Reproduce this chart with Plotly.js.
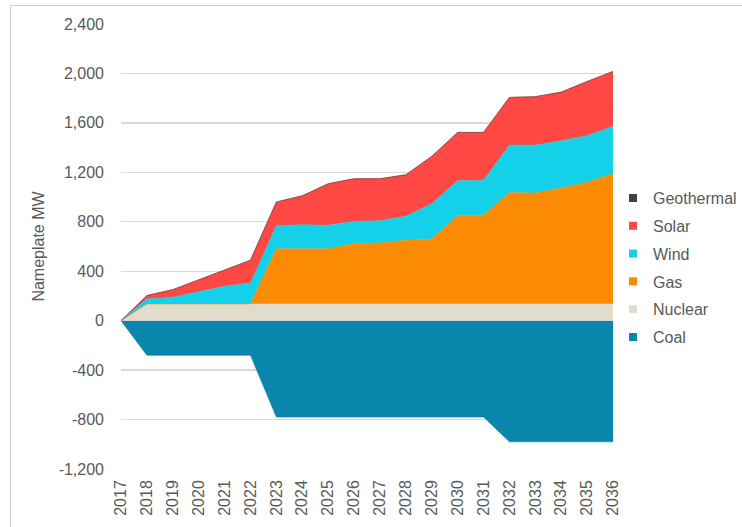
<!DOCTYPE html>
<html>
<head>
<meta charset="utf-8">
<script src="https://cdn.plot.ly/plotly-3.0.1.min.js"></script>
<style>
  html, body { margin: 0; padding: 0; background: #ffffff; overflow: hidden; }
  #frame { position: absolute; left: 10px; top: 5px; width: 760px; height: 560px;
           border: 1px solid #d0d0d0; box-sizing: border-box; }
  #chart { position: absolute; left: 0; top: 0; width: 742px; height: 527px; }
</style>
</head>
<body>
<div id="frame"></div>
<div id="chart"></div>
<script>
// Capacity additions (positive) and retirements (negative), nameplate MW
const years = [2017, 2018, 2019, 2020, 2021, 2022, 2023, 2024, 2025, 2026,
               2027, 2028, 2029, 2030, 2031, 2032, 2033, 2034, 2035, 2036];

const coal       = [0, -280, -280, -280, -280, -280, -780, -780, -780, -780,
                    -780, -780, -780, -780, -780, -980, -980, -980, -980, -980];
const nuclear    = [0, 135, 135, 135, 135, 135, 135, 135, 135, 135,
                    135, 135, 135, 135, 135, 135, 135, 135, 135, 135];
const gas        = [0, 0, 0, 0, 0, 0, 446, 444, 447, 488,
                    493, 515, 525, 714, 717, 901, 897, 938, 983, 1053];
const wind       = [0, 41, 54, 97, 143, 170, 187, 197, 189, 180,
                    180, 194, 286, 283, 283, 384, 388, 382, 378, 383];
const solar      = [0, 27, 62, 100, 136, 184, 192, 234, 337, 345,
                    340, 336, 383, 391, 388, 386, 392, 394, 439, 445];
const geothermal = [0, 0, 0, 0, 0, 0, 0, 0, 0, 0,
                    0, 0, 0, 0, 0, 0, 0, 0, 0, 0];

const yTickVals = [-1200, -800, -400, 0, 400, 800, 1200, 1600, 2000, 2400];
const yTickText = ["-1,200", "-800", "-400", "0", "400", "800", "1,200", "1,600", "2,000", "2,400"];

const legendNames  = ["Geothermal", "Solar", "Wind", "Gas", "Nuclear", "Coal"];
const colors = {
  Geothermal: "#404040",
  Solar: "#ff4744",
  Wind: "#14d0e8",
  Gas: "#fb8a05",
  Nuclear: "#e2dccd",
  Coal: "#0a86ad"
};

const textColor = "#595959";
const font = { family: "Liberation Sans, Arial, sans-serif", size: 16, color: textColor };

function area(name, values, stack) {
  const t = {
    x: years, y: values, name: name, type: "scatter", mode: "lines",
    line: { width: 0.6, color: colors[name] },
    fillcolor: colors[name], showlegend: false, hoverinfo: "x+y+name"
  };
  if (stack) { t.stackgroup = "pos"; } else { t.fill = "tozeroy"; }
  return t;
}

const traces = [
  area("Coal", coal, false),
  area("Nuclear", nuclear, true),
  area("Gas", gas, true),
  area("Wind", wind, true),
  area("Solar", solar, true),
  area("Geothermal", geothermal, true)
];

// square swatches for the legend
legendNames.forEach(function (name) {
  traces.push({
    x: [null], y: [null], type: "scatter", mode: "markers", name: name,
    legendgroup: name,
    marker: { symbol: "square", size: 8, color: colors[name] },
    hoverinfo: "skip"
  });
});

const layout = {
  width: 742, height: 527,
  margin: { l: 121, r: 129, t: 24, b: 58, autoexpand: false },
  paper_bgcolor: "rgba(0,0,0,0)",
  plot_bgcolor: "rgba(0,0,0,0)",
  font: font,
  showlegend: true,
  legend: {
    x: 1.0, xanchor: "left", y: 0.647, yanchor: "top",
    traceorder: "grouped", tracegroupgap: 4,
    itemwidth: 30, font: font, bgcolor: "rgba(0,0,0,0)"
  },
  xaxis: {
    range: [2017, 2036], tickvals: years, tickangle: -90,
    showgrid: false, zeroline: false, showline: false,
    ticks: "", tickfont: font, ticklabelstandoff: 7, fixedrange: true
  },
  yaxis: {
    range: [-1200, 2400], tickvals: yTickVals, ticktext: yTickText,
    showgrid: true, gridcolor: "#d9d9d9", gridwidth: 1.3,
    zeroline: false, showline: false, ticks: "",
    ticklabelstandoff: 16, tickfont: font, fixedrange: true,
    title: { text: "Nameplate MW", font: font, standoff: 10 }
  }
};

Plotly.newPlot("chart", traces, layout, { displayModeBar: false, staticPlot: true });
</script>
</body>
</html>
